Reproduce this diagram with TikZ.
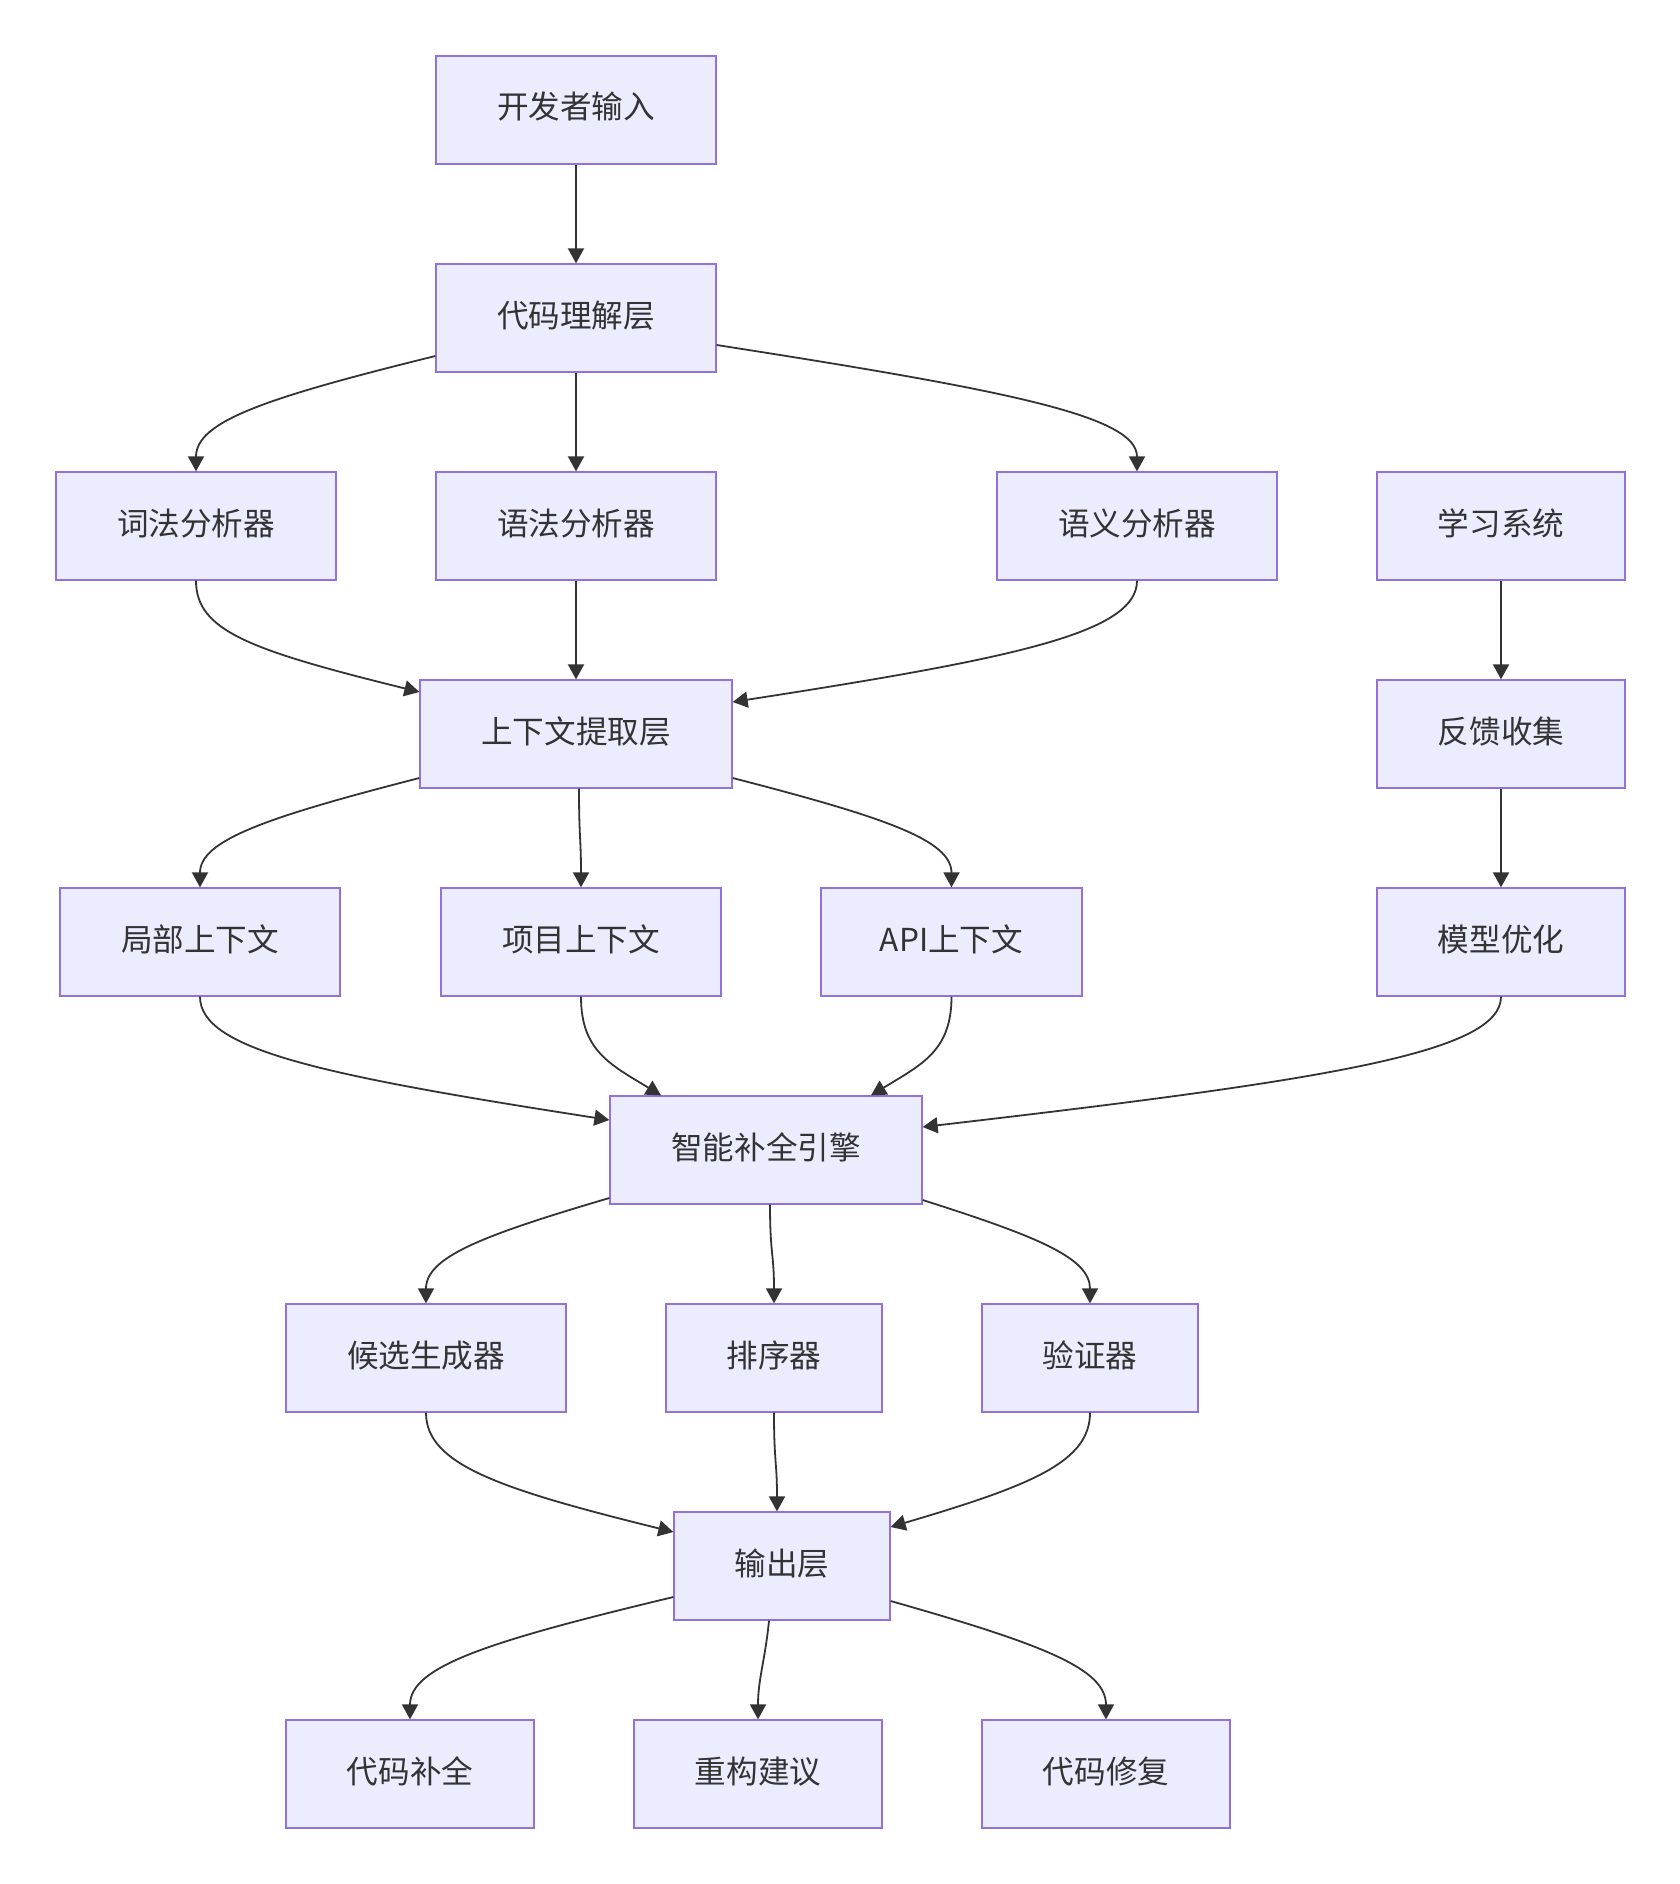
\documentclass[tikz,border=0pt]{standalone}
\usepackage{fontspec}
\newfontfamily\cjk{Noto Sans CJK SC}
\usetikzlibrary{arrows.meta,calc}
\definecolor{boxfill}{HTML}{ECECFF}
\definecolor{boxline}{HTML}{9370DB}
\definecolor{ink}{HTML}{333333}
\tikzset{
  box/.style={draw=boxline, fill=boxfill, line width=0.65pt, inner sep=0pt,
    minimum height=54pt, text height=12pt, text depth=3pt, text=ink,
    font=\cjk\fontsize{15.8pt}{19pt}\selectfont},
  w5/.style={minimum width=140pt},
  w4/.style={minimum width=124pt},
  w3/.style={minimum width=108pt},
  w6/.style={minimum width=156pt},
  link/.style={draw=ink, line width=0.9pt, -{Triangle[width=8pt,length=7.5pt]}}
}
\begin{document}
\begin{tikzpicture}[x=0.5pt,y=-0.5pt]
\useasboundingbox (0,0) rectangle (1680,1884);
% nodes
\node[box,w5] (dev) at (576,110) {开发者输入};
\node[box,w5] (code) at (576,318) {代码理解层};
\node[box,w5] (lex) at (196,526) {词法分析器};
\node[box,w5] (syn) at (576,526) {语法分析器};
\node[box,w5] (sem) at (1137,526) {语义分析器};
\node[box,w4] (learn) at (1501,526) {学习系统};
\node[box,w6] (ctx) at (576,734) {上下文提取层};
\node[box,w4] (fb) at (1501,734) {反馈收集};
\node[box,w5] (loc) at (200,942) {局部上下文};
\node[box,w5] (proj) at (581,942) {项目上下文};
\node[box,minimum width=130.5pt] (api) at (951.5,942) {API上下文};
\node[box,w4] (model) at (1501,942) {模型优化};
\node[box,w6] (eng) at (766,1150) {智能补全引擎};
\node[box,w5] (cand) at (426,1358) {候选生成器};
\node[box,w3] (rank) at (774,1358) {排序器};
\node[box,w3] (ver) at (1090,1358) {验证器};
\node[box,w3] (out) at (782,1566) {输出层};
\node[box,w4] (comp) at (410,1774) {代码补全};
\node[box,w4] (refac) at (758,1774) {重构建议};
\node[box,w4] (fix) at (1106,1774) {代码修复};
% edges
\draw[link] (dev.south) -- (code.north);
\draw[link] ($(code.west)+(0,38)$) .. controls +(-170,42) and +(0,-50) .. (lex.north);
\draw[link] (code.south) -- (syn.north);
\draw[link] ($(code.east)+(0,27)$) .. controls +(295,46) and +(0,-55) .. (sem.north);
\draw[link] (lex.south) .. controls +(0,50) and +(-170,-42) .. ($(ctx.west)+(0,-42)$);
\draw[link] (syn.south) -- (ctx.north);
\draw[link] (sem.south) .. controls +(0,52) and +(283.5,-44) .. ($(ctx.east)+(0,-32)$);
\draw[link] (learn.south) -- (fb.north);
\draw[link] (fb.south) -- (model.north);
\draw[link] ($(ctx.west)+(0,44)$) .. controls +(-154,39.6) and +(0,-47) .. (loc.north);
\draw[link] ($(ctx.south)+(3,0)$) .. controls +(0,50) and +(0,-50) .. (proj.north);
\draw[link] ($(ctx.east)+(0,44)$) .. controls +(153.6,39.6) and +(0,-47) .. (api.north);
\draw[link] (loc.south) .. controls +(0,53) and +(-287,-44.6) .. ($(eng.west)+(0,-30)$);
\draw[link] (proj.south) .. controls +(0,54) and +(-51,-31) .. ($(eng.north)+(-105,0)$);
\draw[link] (api.south) .. controls +(0,54) and +(51,-31) .. ($(eng.north)+(105,0)$);
\draw[link] (model.south) .. controls +(0,56) and +(405,-47) .. ($(eng.east)+(0,-23)$);
\draw[link] ($(eng.west)+(0,48)$) .. controls +(-129,38) and +(0,-46) .. (cand.north);
\draw[link] ($(eng.south)+(4,0)$) .. controls +(0,50) and +(0,-50) .. (rank.north);
\draw[link] ($(eng.east)+(0,50)$) .. controls +(117.6,37.4) and +(0,-45) .. (ver.north);
\draw[link] (cand.south) .. controls +(0,52) and +(-173.6,-43) .. ($(out.west)+(0,-34)$);
\draw[link] (rank.south) .. controls +(0,50) and +(0,-50) .. ($(out.north)+(-5,0)$);
\draw[link] (ver.south) .. controls +(0,49.5) and +(140,-41.4) .. ($(out.east)+(0,-39)$);
\draw[link] ($(out.west)+(0,31)$) .. controls +(-184.8,44.3) and +(0,-53) .. (comp.north);
\draw[link] ($(out.south)+(-13,0)$) .. controls +(-4,40) and +(0,-40) .. (refac.north);
\draw[link] ($(out.east)+(0,35)$) .. controls +(151,43) and +(0,-51) .. (fix.north);
\end{tikzpicture}
\end{document}
